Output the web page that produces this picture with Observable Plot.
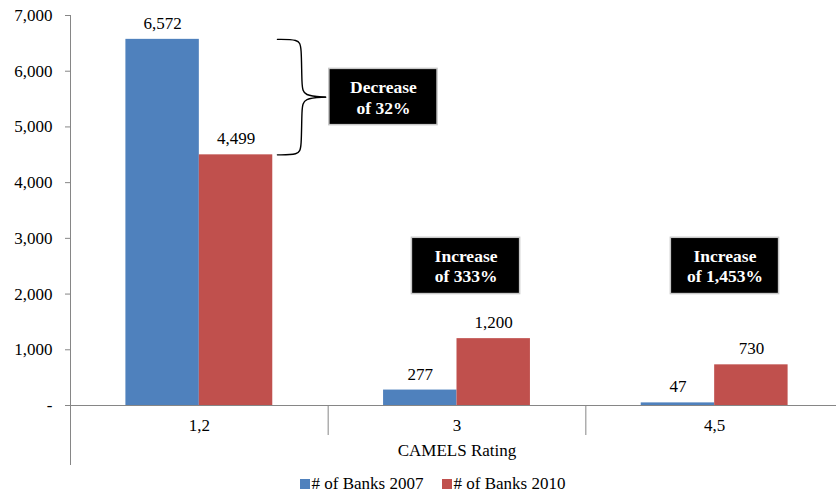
<!DOCTYPE html>
<html>
<head>
<meta charset="utf-8">
<script src="https://cdn.jsdelivr.net/npm/d3@7"></script>
<script src="https://cdn.jsdelivr.net/npm/@observablehq/plot@0.6"></script>
<style>
  body { margin: 0; background: #fff; font-family: 'Liberation Serif', 'DejaVu Serif', serif; }
  #legend { height: 28px; display: flex; justify-content: center; align-items: center; font-size: 17px; padding-left: 29px; color: #000; }
  #legend .item { display: flex; align-items: center; margin: 0 9px; }
  #legend .sw { width: 10px; height: 10px; margin-right: 2px; display: inline-block; }
</style>
</head>
<body>
<div id="chart"></div>
<div id="legend"></div>
<script>
// ---- data ----
const categories = ["1,2", "3", "4,5"];
const banks2007 = [6572, 277, 47];
const banks2010 = [4499, 1200, 730];
const seriesNames = ["# of Banks 2007", "# of Banks 2010"];
const seriesColors = ["#4F81BD", "#C0504D"];
const yTicks = [0, 1000, 2000, 3000, 4000, 5000, 6000, 7000];
const axisTitle = "CAMELS Rating";
const annotationLabels = ["Decrease\nof 32%", "Increase\nof 333%", "Increase\nof 1,453%"];
const annotationCategory = [0, 1, 2];
const annotationOffset = [0.7145, 0.035, 0.04];
const annotationCenter = [5537, 2505, 2505];

// ---- layout constants (styles) ----
const FONT = "'Liberation Serif', 'DejaVu Serif', serif";
const W = 0.285;          // bar width in category units
const BOX_HW = 0.21;      // annotation box half width
const BOX_HH = 505;       // annotation box half height (value units)
const GREY = "#868686";

const rows = categories.flatMap((c, i) => [
  {i, cat: c, name: seriesNames[0], s: 0, value: banks2007[i]},
  {i, cat: c, name: seriesNames[1], s: 1, value: banks2010[i]}
]);
const annots = annotationLabels.map((label, k) => ({
  label, x: annotationCategory[k] + annotationOffset[k], y: annotationCenter[k]
}));

// curly brace between the two bars of the first category
const bTop = banks2007[0], bBot = banks2010[0], bMid = (bTop + bBot) / 2;
const brace = [
  {z: 0, x: 0.303, y: bTop}, {z: 0, x: 0.385, y: bTop}, {z: 0, x: 0.397, y: bTop - 120},
  {z: 0, x: 0.397, y: bMid + 200}, {z: 0, x: 0.405, y: bMid + 20}, {z: 0, x: 0.49, y: bMid},
  {z: 1, x: 0.303, y: bBot}, {z: 1, x: 0.385, y: bBot}, {z: 1, x: 0.397, y: bBot + 120},
  {z: 1, x: 0.397, y: bMid - 200}, {z: 1, x: 0.405, y: bMid - 20}, {z: 1, x: 0.49, y: bMid}
];

const fmt = d3.format(",");

const chart = Plot.plot({
  width: 836,
  height: 470,
  marginLeft: 70,
  marginRight: -7,
  marginTop: 15,
  marginBottom: 65,
  style: {fontFamily: FONT, fontSize: "17px", background: "white", overflow: "visible"},
  x: {domain: [-0.5, 2.5], axis: null},
  y: {domain: [0, 7000], axis: null},
  color: {domain: seriesNames, range: seriesColors},
  marks: [
    Plot.axisY({ticks: yTicks, tickSize: 5, tickPadding: 13, stroke: GREY, fill: "black",
      tickFormat: d => d === 0 ? "-" : fmt(d), label: null, fontFamily: FONT}),
    Plot.rectY(rows, {x1: d => d.i + (d.s ? 0 : -W), x2: d => d.i + (d.s ? W : 0), y: "value", fill: "name"}),
    Plot.ruleX([-0.5], {stroke: GREY, insetBottom: -60}),
    Plot.ruleY([0], {stroke: GREY}),
    Plot.ruleX([0.5, 1.5], {y1: 0, y2: 0, insetBottom: -30, stroke: GREY}),
    Plot.text(categories, {x: (d, i) => i, y: 0, text: d => d, dy: 20, fill: "black", fontFamily: FONT}),
    Plot.text([axisTitle], {frameAnchor: "bottom", dy: 50, fill: "black", fontFamily: FONT}),
    Plot.text(rows, {x: d => d.i + (d.s ? W / 2 : -W / 2), y: "value", text: d => fmt(d.value), dy: -16, fill: "black", fontFamily: FONT}),
    Plot.line(brace, {x: "x", y: "y", z: "z", curve: "basis", stroke: "black", strokeWidth: 1.4}),
    Plot.rect(annots, {x1: d => d.x - BOX_HW, x2: d => d.x + BOX_HW, y1: d => d.y - BOX_HH, y2: d => d.y + BOX_HH,
      fill: "black", stroke: "#c8c8c8", strokeWidth: 1.5}),
    Plot.text(annots, {x: "x", y: "y", text: "label", fill: "white", fontWeight: "bold", lineHeight: 1.15, fontSize: 17.5, fontFamily: FONT})
  ]
});
document.getElementById("chart").appendChild(chart);

const legend = document.getElementById("legend");
seriesNames.forEach((n, k) => {
  const item = document.createElement("span");
  item.className = "item";
  const sw = document.createElement("span");
  sw.className = "sw";
  sw.style.background = seriesColors[k];
  item.appendChild(sw);
  item.appendChild(document.createTextNode(n));
  legend.appendChild(item);
});
</script>
</body>
</html>
